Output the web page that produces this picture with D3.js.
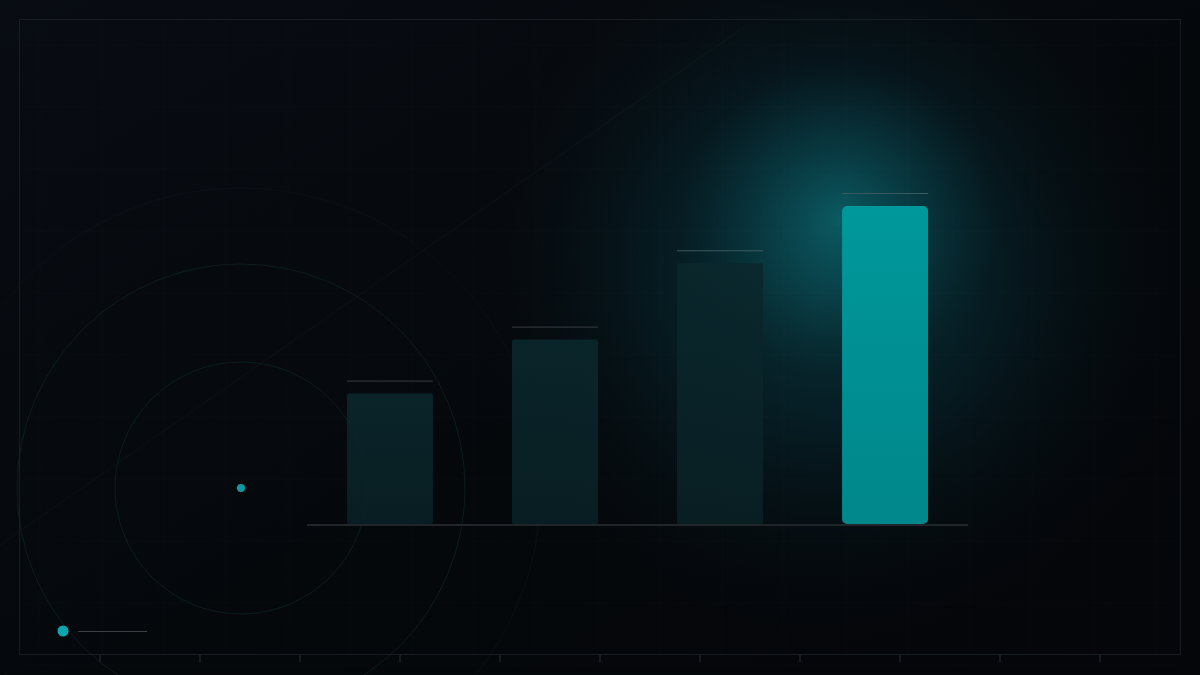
<!DOCTYPE html>
<html>
<head>
<meta charset="utf-8">
<script src="https://cdn.jsdelivr.net/npm/d3@7"></script>
<style>
  html, body { margin: 0; padding: 0; background: #05070a; }
  svg { display: block; }
</style>
</head>
<body>
<svg id="chart" width="1200" height="675"></svg>
<script>
// data (no labels are shown in it)
const categories = ["A", "B", "C", "D"];
const values = [41, 58, 82, 100];
const highlight = ["D"];
const tickValues = [100, 200, 300, 400, 500, 600, 700, 800, 900, 1000, 1100];
const ringRadii = [126, 224, 300];

const W = 1200, H = 675;
const svg = d3.select("#chart");
const defs = svg.append("defs");

// background
const bg = defs.append("linearGradient").attr("id", "bg")
  .attr("x1", "0").attr("y1", "0").attr("x2", "1").attr("y2", "1");
bg.append("stop").attr("offset", "0%").attr("stop-color", "#080c13");
bg.append("stop").attr("offset", "55%").attr("stop-color", "#05080b");
bg.append("stop").attr("offset", "100%").attr("stop-color", "#04060a");
svg.append("rect").attr("width", W).attr("height", H).attr("fill", "url(#bg)");

// glow behind the tall bar
const glowBig = defs.append("radialGradient").attr("id", "glowBig")
  .attr("gradientUnits", "userSpaceOnUse")
  .attr("cx", 830).attr("cy", 270).attr("r", 380);
glowBig.append("stop").attr("offset", "0%").attr("stop-color", "#0a4a52").attr("stop-opacity", 0.7);
glowBig.append("stop").attr("offset", "45%").attr("stop-color", "#07303a").attr("stop-opacity", 0.45);
glowBig.append("stop").attr("offset", "100%").attr("stop-color", "#05080b").attr("stop-opacity", 0);
svg.append("rect").attr("width", W).attr("height", H).attr("fill", "url(#glowBig)");

const glow = defs.append("radialGradient").attr("id", "glow")
  .attr("gradientUnits", "userSpaceOnUse")
  .attr("cx", 840).attr("cy", 220).attr("r", 160);
glow.append("stop").attr("offset", "0%").attr("stop-color", "#0c666e").attr("stop-opacity", 0.8);
glow.append("stop").attr("offset", "60%").attr("stop-color", "#0a4a54").attr("stop-opacity", 0.35);
glow.append("stop").attr("offset", "100%").attr("stop-color", "#083038").attr("stop-opacity", 0);
svg.append("rect").attr("width", W).attr("height", H).attr("fill", "url(#glow)");

// faint grid
const grid = svg.append("g").attr("stroke", "#ffffff").attr("stroke-opacity", 0.02);
grid.selectAll("line.v").data(d3.range(40, W, 62)).join("line")
  .attr("x1", d => d).attr("x2", d => d).attr("y1", 19).attr("y2", 655);
grid.selectAll("line.h").data(d3.range(45, H, 62)).join("line")
  .attr("x1", 19).attr("x2", 1181).attr("y1", d => d).attr("y2", d => d);

// diagonal streak
svg.append("line")
  .attr("x1", 0).attr("y1", 545).attr("x2", 740).attr("y2", 30)
  .attr("stroke", "#2a3a48").attr("stroke-opacity", 0.18).attr("stroke-width", 1);

// frame
svg.append("rect")
  .attr("x", 19.5).attr("y", 19.5).attr("width", 1161).attr("height", 635)
  .attr("fill", "none").attr("stroke", "#181d23").attr("stroke-width", 1);

// bottom ticks
const tickScale = d3.scaleLinear().domain([0, W]).range([0, W]);
svg.append("g").selectAll("line").data(tickValues).join("line")
  .attr("x1", d => tickScale(d)).attr("x2", d => tickScale(d))
  .attr("y1", 655).attr("y2", 662)
  .attr("stroke", "#2a3038").attr("stroke-width", 1);

// rings around the small dot
const ringC = [241, 488];
svg.append("g").selectAll("circle").data(ringRadii).join("circle")
  .attr("cx", ringC[0]).attr("cy", ringC[1]).attr("r", d => d)
  .attr("fill", "none")
  .attr("stroke", (d, i) => i === 2 ? "#1a2630" : "#123030")
  .attr("stroke-opacity", (d, i) => i === 2 ? 0.22 : 0.5)
  .attr("stroke-width", 1);
svg.append("circle").attr("cx", ringC[0]).attr("cy", ringC[1]).attr("r", 4)
  .attr("fill", "#0d9aa3");

// scales
const x = d3.scaleBand().domain(categories).range([307, 968])
  .paddingInner(0.479).paddingOuter(0.242);
const y = d3.scaleLinear().domain([0, 100]).range([524, 206]);

// bar fills
const dim = defs.append("linearGradient").attr("id", "dim")
  .attr("x1", "0").attr("y1", "0").attr("x2", "0").attr("y2", "1");
dim.append("stop").attr("offset", "0%").attr("stop-color", "#0a272c");
dim.append("stop").attr("offset", "100%").attr("stop-color", "#092025");
const hot = defs.append("linearGradient").attr("id", "hot")
  .attr("x1", "0").attr("y1", "0").attr("x2", "0").attr("y2", "1");
hot.append("stop").attr("offset", "0%").attr("stop-color", "#00989b");
hot.append("stop").attr("offset", "100%").attr("stop-color", "#00878b");

const bars = svg.append("g");
bars.selectAll("rect").data(values).join("rect")
  .attr("x", (d, i) => x(categories[i]))
  .attr("y", d => y(d))
  .attr("width", x.bandwidth())
  .attr("height", d => y(0) - y(d))
  .attr("rx", (d, i) => highlight.includes(categories[i]) ? 5 : 2)
  .attr("fill", (d, i) => highlight.includes(categories[i]) ? "url(#hot)" : "url(#dim)")
  .attr("fill-opacity", (d, i) => highlight.includes(categories[i]) ? 1 : 0.9);

// thin cap line above each bar
bars.selectAll("line").data(values).join("line")
  .attr("x1", (d, i) => x(categories[i]))
  .attr("x2", (d, i) => x(categories[i]) + x.bandwidth())
  .attr("y1", d => y(d) - 12.5).attr("y2", d => y(d) - 12.5)
  .attr("stroke", (d, i) => i >= 2 ? "#3b5a5e" : "#2c3338")
  .attr("stroke-width", 1.2);

// baseline
svg.append("line")
  .attr("x1", 307).attr("x2", 968).attr("y1", y(0) + 1).attr("y2", y(0) + 1)
  .attr("stroke", "#1f2529").attr("stroke-width", 2);

// legend marker
svg.append("circle").attr("cx", 63).attr("cy", 631).attr("r", 5.5).attr("fill", "#0aa6b0");
svg.append("line").attr("x1", 78).attr("x2", 147).attr("y1", 631.5).attr("y2", 631.5)
  .attr("stroke", "#3a4046").attr("stroke-width", 1.2);
</script>
</body>
</html>
